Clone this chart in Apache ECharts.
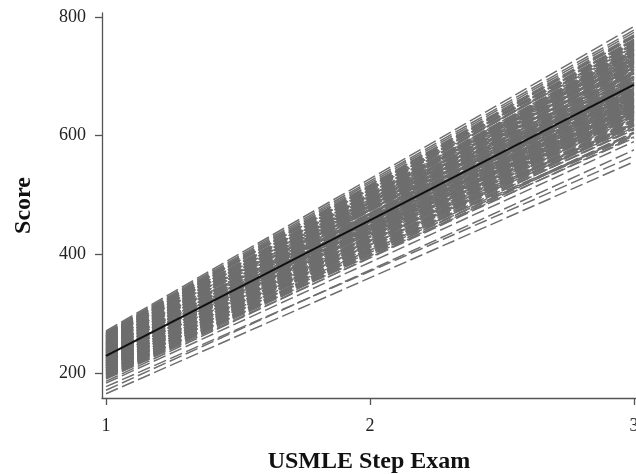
<!DOCTYPE html>
<html>
<head>
<meta charset="utf-8">
<script src="https://cdn.jsdelivr.net/npm/echarts@6/dist/echarts.min.js"></script>
<style>html,body{margin:0;padding:0;background:#fff;}#c{width:636px;height:474px;}</style>
</head>
<body>
<div id="c"></div>
<script>
var steps = [1, 3];
var xTicks = [1, 2, 3];
var yTicks = [200, 400, 600, 800];
var step1Scores = [165,171,177,183,186,190,192,194,195,197,198,200,201,203,204,205,207,208,209,210,211,212,213,214,215,216,217,218,219,220,221,222,223,224,225,226,227,228,229,230,231,232,233,234,235,236,237,238,239,240,241,242,243,244,245,246,247,248,249,250,251,252,253,254,255,256,257,258,259,260,261,262,263,264,265,266,267,268,269,271,206,199,245,226,255,218,235,262,212,240,
  219,224,229,233,238,243,247,252,257,261,265,222,227,232,236,241,246,250,254,259,263,214,217,221,226,230,234,239,244,248,253,258,262,266,208,211,216,220,225,231,237,242,249,256,260,203,213,228,245,251,
  191,193,196,198,200,202,204,206,208,210,212,214,216,218,220,222,224,226,228,230,196,199,202,205,209,213,217,221,225,229,233,237,241,194,207,215,223,231,239,247,
  197,201,205,209,213,217,221,225,229,233,237,241,245,249,253,257,261,264,267,243,236,251];
var step3Scores = [556,576,566,590,604,598,612,626,605,640,618,632,650,610,660,628,645,672,622,655,684,638,666,648,695,630,676,658,705,642,688,668,715,652,698,678,722,662,690,708,674,730,694,656,716,684,738,700,668,726,692,744,712,680,734,702,750,720,690,742,708,756,728,698,748,716,762,736,706,752,724,768,742,714,758,732,774,750,778,784,600,596,640,620,670,614,634,690,602,648,
  700,710,720,728,734,740,746,754,760,766,770,682,694,704,712,722,730,738,744,752,760,660,672,686,676,700,690,718,708,730,724,744,736,756,644,652,664,650,666,684,696,706,716,732,740,636,620,646,664,676,
  606,616,624,634,644,622,654,636,664,648,674,656,682,640,690,662,670,646,680,658,612,628,642,618,652,630,666,638,686,650,662,678,672,620,634,642,654,668,660,688,
  618,626,638,646,634,658,668,650,676,698,712,704,724,726,740,746,754,762,766,718,692,736];
var meanScores = [229, 686];

var series = [];
for (var i = 0; i < step1Scores.length; i++) {
  series.push({
    type: 'line', symbol: 'none', silent: true, animation: false,
    data: [[steps[0], step1Scores[i]], [steps[1], step3Scores[i]]],
    lineStyle: { color: '#6e6e6e', width: 1.5, type: [13, 4.5] },
    z: 2
  });
}
series.push({
  type: 'line', symbol: 'none', silent: true, animation: false,
  data: [[steps[0], meanScores[0]], [steps[1], meanScores[1]]],
  lineStyle: { color: '#111', width: 2 },
  z: 5
});

var font = 'Liberation Serif';
var chart = echarts.init(document.getElementById('c'));
chart.setOption({
  backgroundColor: '#fff',
  animation: false,
  grid: { left: 102, top: 13, right: 0, bottom: 76, containLabel: false, outerBoundsMode: 'none' },
  xAxis: {
    type: 'value', min: 0.9848, max: 3.0076,
    name: 'USMLE Step Exam', nameLocation: 'middle', nameGap: 52,
    nameTextStyle: { fontFamily: font, fontSize: 24, fontWeight: 'bold', color: '#111' },
    axisLine: { onZero: false, lineStyle: { color: '#555', width: 1.3 } },
    axisTick: { customValues: xTicks, length: 7, lineStyle: { color: '#555', width: 1.3 } },
    axisLabel: { customValues: xTicks, margin: 19, fontFamily: font, fontSize: 18, color: '#222' },
    splitLine: { show: false }
  },
  yAxis: {
    type: 'value', min: 157.9, max: 806.7,
    name: 'Score', nameLocation: 'middle', nameGap: 66,
    nameTextStyle: { fontFamily: font, fontSize: 24, fontWeight: 'bold', color: '#111' },
    axisLine: { show: true, onZero: false, lineStyle: { color: '#555', width: 1.3 } },
    axisTick: { show: true, customValues: yTicks, length: 7, lineStyle: { color: '#555', width: 1.3 } },
    axisLabel: { customValues: yTicks, margin: 16, fontFamily: font, fontSize: 18, color: '#222' },
    splitLine: { show: false }
  },
  series: series
});
</script>
</body>
</html>
